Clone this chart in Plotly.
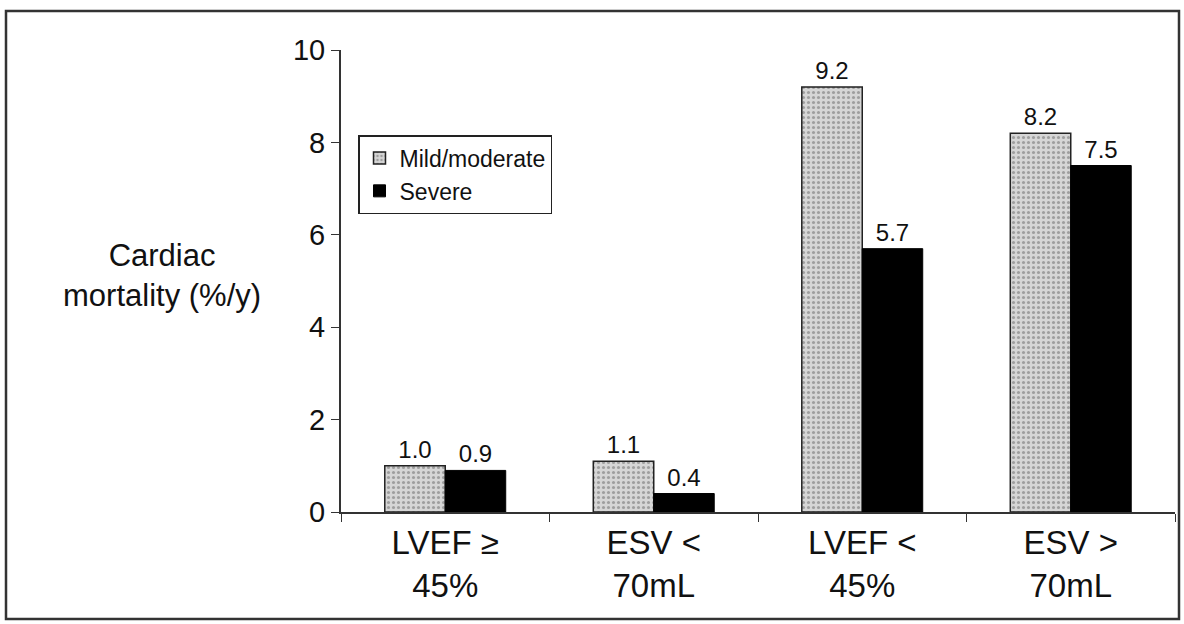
import plotly.graph_objects as go

categories = ["LVEF ≥<br>45%", "ESV <<br>70mL", "LVEF <<br>45%", "ESV ><br>70mL"]
mild_moderate = [1.0, 1.1, 9.2, 8.2]
severe = [0.9, 0.4, 5.7, 7.5]
y_ticks = [0, 2, 4, 6, 8, 10]

FONT = "Liberation Sans, Arial, sans-serif"

fig = go.Figure()
fig.add_trace(go.Bar(
    x=categories, y=mild_moderate, name="Mild/moderate",
    marker=dict(color="#d4d4d4", line=dict(color="#222", width=1.5),
                pattern=dict(shape=".", fgcolor="#666", bgcolor="#d6d6d6", size=5, solidity=0.3)),
    text=[f"{v:.1f}" for v in mild_moderate], textposition="outside",
    textfont=dict(size=24, color="#111", family=FONT), cliponaxis=False,
))
fig.add_trace(go.Bar(
    x=categories, y=severe, name="Severe",
    marker=dict(color="#000000", line=dict(color="#000", width=1)),
    text=[f"{v:.1f}" for v in severe], textposition="outside",
    textfont=dict(size=24, color="#111", family=FONT), cliponaxis=False,
))

W, H = 1184, 624
L, R, T, B = 341, 9, 50, 112
pw, ph = W - L - R, H - T - B

def px(x):
    return (x - L) / pw

def py(y):
    return (H - B - y) / ph

fig.update_layout(
    width=W, height=H,
    margin=dict(l=L, r=R, t=T, b=B),
    paper_bgcolor="white", plot_bgcolor="white",
    barmode="group", bargap=0.42, bargroupgap=0,
    font=dict(family=FONT, color="#111", size=24),
    showlegend=True,
    legend=dict(x=px(358), y=py(135), xanchor="left", yanchor="top",
                bordercolor="#222", borderwidth=1.5, bgcolor="white",
                font=dict(size=23, family=FONT), itemwidth=30,
                tracegroupgap=0),
    xaxis=dict(showline=True, linecolor="#333", linewidth=2, ticks="outside",
               tickson="boundaries", ticklen=8, tickcolor="#333",
               tickfont=dict(size=33, family=FONT), showgrid=False),
    yaxis=dict(range=[0, 10], tickvals=y_ticks, showline=True, linecolor="#333",
               linewidth=2, ticks="outside", ticklen=8, tickcolor="#333",
               tickfont=dict(size=29, family=FONT), showgrid=False, zeroline=False),
    annotations=[dict(x=px(162), y=py(275), xref="paper", yref="paper",
                      xanchor="center", yanchor="middle",
                      text="Cardiac<br>mortality (%/y)", showarrow=False,
                      font=dict(size=31, family=FONT), align="center")],
    shapes=[dict(type="rect", xref="paper", yref="paper",
                 x0=px(6), x1=px(1179), y0=py(619), y1=py(11),
                 line=dict(color="#333", width=2.5))],
)

fig.write_html("out.html", config={"displayModeBar": False},
               post_script="document.body.style.margin='0';document.body.style.overflow='hidden';")
